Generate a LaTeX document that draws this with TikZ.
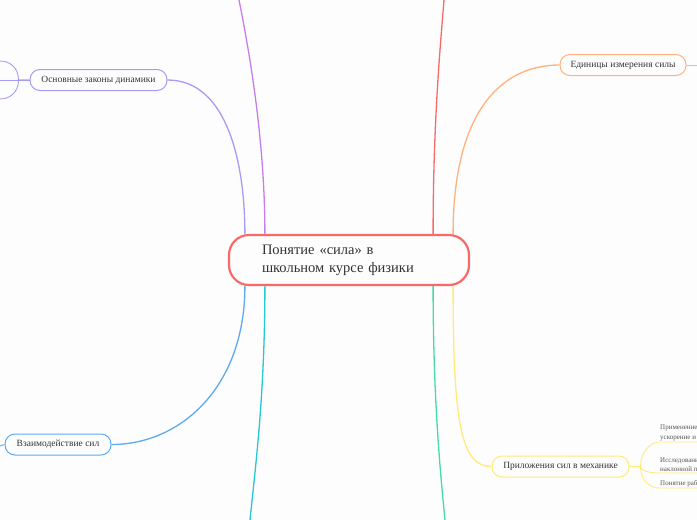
\documentclass[tikz,border=0pt]{standalone}
\usepackage{fontspec}
\setmainfont{Liberation Serif}
\definecolor{cred}{HTML}{F86A6A}
\definecolor{cpurple}{HTML}{C77EEC}
\definecolor{clav}{HTML}{A59CF6}
\definecolor{corange}{HTML}{FFB27E}
\definecolor{cblue}{HTML}{5DAAF3}
\definecolor{ccyan}{HTML}{27C7D8}
\definecolor{cgreen}{HTML}{45DBA6}
\definecolor{cyellow}{HTML}{FFEA7C}
\definecolor{txt}{HTML}{333333}
\definecolor{leaftxt}{HTML}{555555}
\definecolor{bg}{HTML}{FDFDFD}
\tikzset{
  branch/.style={line width=1.3pt},
  twig/.style={line width=0.9pt},
  topic/.style={draw, fill=bg, rounded corners=10pt, line width=1pt, minimum height=21pt, inner sep=2pt, text=txt, font=\fontsize{9.5}{11}\selectfont},
  leaf/.style={text=leaftxt, align=left, inner sep=1pt, font=\fontsize{7}{9.5}\selectfont}
}
\begin{document}
\begin{tikzpicture}[x=1pt,y=-1pt]
\fill[bg] (0,0) rectangle (697,520);
\useasboundingbox (0,0) rectangle (697,520);

\node[draw=cred, fill=bg, line width=2.2pt, rounded corners=20pt, minimum height=50pt, text width=174pt, inner xsep=33pt, align=left, text=txt, font=\fontsize{14.5}{18}\selectfont] (center) at (349,260) {Понятие «сила» в\\школьном курсе физики};

\node[topic, draw=clav, minimum width=137pt] (osn) at (98.5,80) {Основные законы динамики};
\node[topic, draw=corange, minimum width=126pt] (edin) at (623,65) {Единицы измерения силы};
\node[topic, draw=cblue, minimum width=106pt] (vzaim) at (58,444.5) {Взаимодействие сил};
\node[topic, draw=cyellow, minimum width=137pt] (pril) at (560.5,466.5) {Приложения сил в механике};

\node[leaf, anchor=south west] (pl1) at (659,442) {Применение\\ускорение и};
\node[leaf, anchor=south west] (pl2) at (659,473) {Исследовани\\наклонной п};
\node[leaf, anchor=south west] (pl3) at (659,488) {Понятие раб};

\coordinate (pTop) at (239,0);
\coordinate (rTop) at (444,0);
\coordinate (cBot) at (250,520);
\coordinate (gBot) at (445,520);
\coordinate (eEdge) at (697,65);
\coordinate (vEdge) at (0,446);
\coordinate (osnL1) at (0,61);
\coordinate (osnL2) at (0,80);
\coordinate (osnL3) at (0,99);

\draw[branch, cpurple] ([xshift=37pt]center.north west) .. controls +(0,-100) and +(8,40) .. (pTop);
\draw[branch, cred] ([xshift=-37pt]center.north east) .. controls +(0,-110) and +(-4,50) .. (rTop);
\draw[branch, ccyan] ([xshift=37pt]center.south west) .. controls +(0,110) and +(5,-50) .. (cBot);
\draw[branch, cgreen] ([xshift=-37pt]center.south east) .. controls +(0,110) and +(-5,-50) .. (gBot);
\draw[branch, clav] ([xshift=17pt]center.north west) .. controls +(0,-70) and +(60,0) .. (osn.east);
\draw[branch, corange] ([xshift=-17pt]center.north east) .. controls +(0,-120) and +(-60,0) .. (edin.west);
\draw[branch, cblue] ([xshift=17pt]center.south west) .. controls +(0,100) and +(70,0) .. (vzaim.east);
\draw[branch, cyellow] ([xshift=-17pt]center.south east) .. controls +(0,140) and +(-30,0) .. (pril.west);

\draw[twig, corange] (edin.east) -- (eEdge);
\draw[twig, cblue] (vzaim.west) -- (vEdge);

\draw[twig, clav] (osn.west) -- (osnL2);
\draw[twig, clav] (osn.west) -- ++(-11,0) .. controls +(0,-14) and +(8,0) .. (osnL1);
\draw[twig, clav] (osn.west) -- ++(-11,0) .. controls +(0,14) and +(8,0) .. (osnL3);

\draw[twig, cyellow] (pril.east) -- ++(11,0) .. controls +(0,-15) and +(-8,0) .. (pl1.south west) -- (pl1.south west -| eEdge);
\draw[twig, cyellow] (pril.east) -- ++(11,0) .. controls +(0,4) and +(-10,0) .. (pl2.south west) -- (pl2.south west -| eEdge);
\draw[twig, cyellow] (pril.east) -- ++(11,0) .. controls +(0,15) and +(-8,0) .. (pl3.south west) -- (pl3.south west -| eEdge);
\end{tikzpicture}
\end{document}
